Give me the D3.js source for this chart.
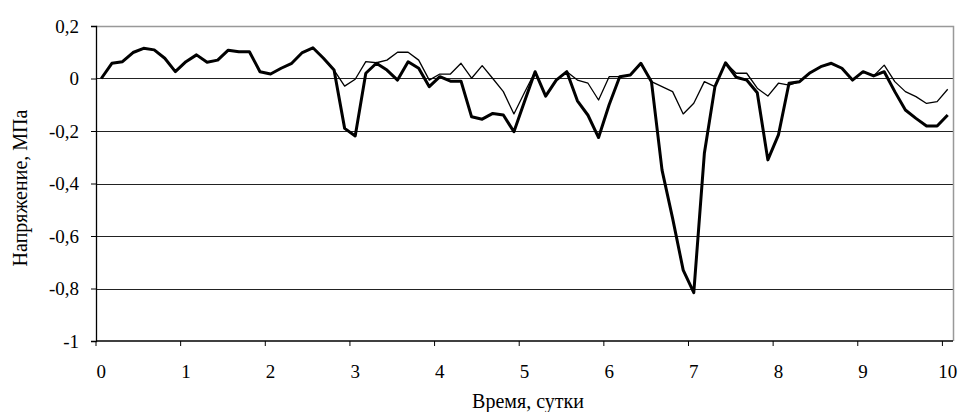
<!DOCTYPE html>
<html>
<head>
<meta charset="utf-8">
<script src="https://cdn.jsdelivr.net/npm/d3@7"></script>
<style>
  html, body { margin: 0; padding: 0; background: #fff; }
  svg { display: block; }
  text { font-family: "Liberation Serif", "Times New Roman", serif; fill: #000; }
</style>
</head>
<body>
<svg id="chart" width="958" height="412"></svg>
<script>
// Sampling step: every 3 hours (1/8 of a day), 81 readings over 10 days
const stepDays = 0.125;

// Stress, MPa — heavy line
const stressA = [
  0, 0.058, 0.064, 0.099, 0.115, 0.109, 0.077, 0.026, 0.064, 0.090,
  0.062, 0.070, 0.108, 0.102, 0.102, 0.026, 0.017, 0.039, 0.058, 0.099,
  0.117, 0.077, 0.032, -0.19, -0.219, 0.02, 0.058, 0.032, -0.006, 0.064,
  0.039, -0.031, 0.007, -0.01, -0.01, -0.146, -0.155, -0.133, -0.139, -0.203,
  -0.088, 0.026, -0.067, -0.006, 0.026, -0.085, -0.14, -0.225, -0.1, 0.007,
  0.013, 0.058, -0.012, -0.349, -0.533, -0.73, -0.816, -0.285, -0.031, 0.06,
  0.005, -0.006, -0.054, -0.31, -0.215, -0.018, -0.012, 0.022, 0.045, 0.058,
  0.039, -0.006, 0.026, 0.01, 0.026, -0.05, -0.12, -0.152, -0.181, -0.181,
  -0.139
];

// Stress, MPa — thin line
const stressB = [
  0, 0.058, 0.064, 0.099, 0.115, 0.109, 0.077, 0.026, 0.064, 0.090,
  0.062, 0.070, 0.108, 0.102, 0.102, 0.026, 0.017, 0.039, 0.058, 0.099,
  0.117, 0.077, 0.032, -0.029, -0.003, 0.064, 0.06, 0.07, 0.1, 0.1,
  0.07, -0.006, 0.017, 0.017, 0.058, 0.001, 0.049, 0, -0.05, -0.135,
  -0.053, 0.026, -0.067, -0.006, 0.026, -0.006, -0.018, -0.082, 0.007, 0.007,
  0.013, 0.058, -0.012, -0.031, -0.05, -0.135, -0.094, -0.012, -0.031, 0.06,
  0.02, 0.02, -0.037, -0.067, -0.018, -0.025, -0.012, 0.022, 0.045, 0.058,
  0.039, -0.006, 0.026, 0.01, 0.051, -0.012, -0.05, -0.069, -0.095, -0.088,
  -0.041
];

const xTicks = [0, 1, 2, 3, 4, 5, 6, 7, 8, 9, 10];
const yTicks = [0.2, 0, -0.2, -0.4, -0.6, -0.8, -1];
const yTickLabels = ["0,2", "0", "-0,2", "-0,4", "-0,6", "-0,8", "-1"];
const xTitle = "Время, сутки";
const yTitle = "Напряжение, МПа";

const svg = d3.select("#chart");
const plot = { left: 96, right: 953, top: 26, bottom: 341 };

// Category-style axis: half a step of padding on each side
const x = d3.scaleLinear()
  .domain([-stepDays / 2, (stressA.length - 1) * stepDays + stepDays / 2])
  .range([plot.left, plot.right]);
const y = d3.scaleLinear().domain([-1, 0.2]).range([plot.bottom, plot.top]);

// Horizontal gridlines
svg.append("g")
  .selectAll("line")
  .data(yTicks.filter(v => v !== 0.2 && v !== -1))
  .join("line")
  .attr("x1", plot.left).attr("x2", plot.right)
  .attr("y1", d => Math.round(y(d)) + 0.5).attr("y2", d => Math.round(y(d)) + 0.5)
  .attr("stroke", "#222").attr("stroke-width", 1.2);

// Plot frame (top and right)
svg.append("path")
  .attr("d", `M${plot.left},${plot.top + 0.5}H${plot.right + 0.5}V${plot.bottom}`)
  .attr("fill", "none").attr("stroke", "#999").attr("stroke-width", 1.5);

// Y axis
const yAxis = d3.axisLeft(y)
  .tickValues(yTicks)
  .tickSize(5)
  .tickPadding(12)
  .tickFormat((d, i) => yTickLabels[i]);
const gy = svg.append("g")
  .attr("transform", `translate(${plot.left},0)`)
  .call(yAxis);
gy.select(".domain").attr("stroke", "#000").attr("stroke-width", 1.3);
gy.selectAll(".tick line").attr("stroke", "#000");
gy.selectAll(".tick text")
  .style("font-family", '"Liberation Serif", serif')
  .style("font-size", "19px").attr("fill", "#000");

// X axis: ticks sit on category boundaries, labels on the day values
const gx = svg.append("g")
  .attr("transform", `translate(0,${plot.bottom})`);
gx.append("line")
  .attr("x1", plot.left).attr("x2", plot.right)
  .attr("y1", 0).attr("y2", 0)
  .attr("stroke", "#000").attr("stroke-width", 1.3);
gx.selectAll("line.tick")
  .data(xTicks)
  .join("line")
  .attr("class", "tick")
  .attr("x1", d => x(d - stepDays / 2)).attr("x2", d => x(d - stepDays / 2))
  .attr("y1", 0).attr("y2", 5)
  .attr("stroke", "#000");
gx.selectAll("text")
  .data(xTicks)
  .join("text")
  .attr("x", d => x(d))
  .attr("y", 37)
  .attr("text-anchor", "middle")
  .style("font-size", "19px")
  .text(d => d);

// Axis titles
svg.append("text")
  .attr("x", 528)
  .attr("y", 408)
  .attr("text-anchor", "middle")
  .style("font-size", "20px")
  .text(xTitle);
svg.append("text")
  .attr("transform", `translate(27,188) rotate(-90)`)
  .attr("text-anchor", "middle")
  .style("font-size", "20px")
  .text(yTitle);

// Series
const line = d3.line()
  .x((d, i) => x(i * stepDays))
  .y(d => y(d));

svg.append("path")
  .datum(stressB)
  .attr("d", line)
  .attr("fill", "none").attr("stroke", "#000")
  .attr("stroke-width", 1.3).attr("stroke-linejoin", "round");

svg.append("path")
  .datum(stressA)
  .attr("d", line)
  .attr("fill", "none").attr("stroke", "#000")
  .attr("stroke-width", 3).attr("stroke-linejoin", "round");
</script>
</body>
</html>
